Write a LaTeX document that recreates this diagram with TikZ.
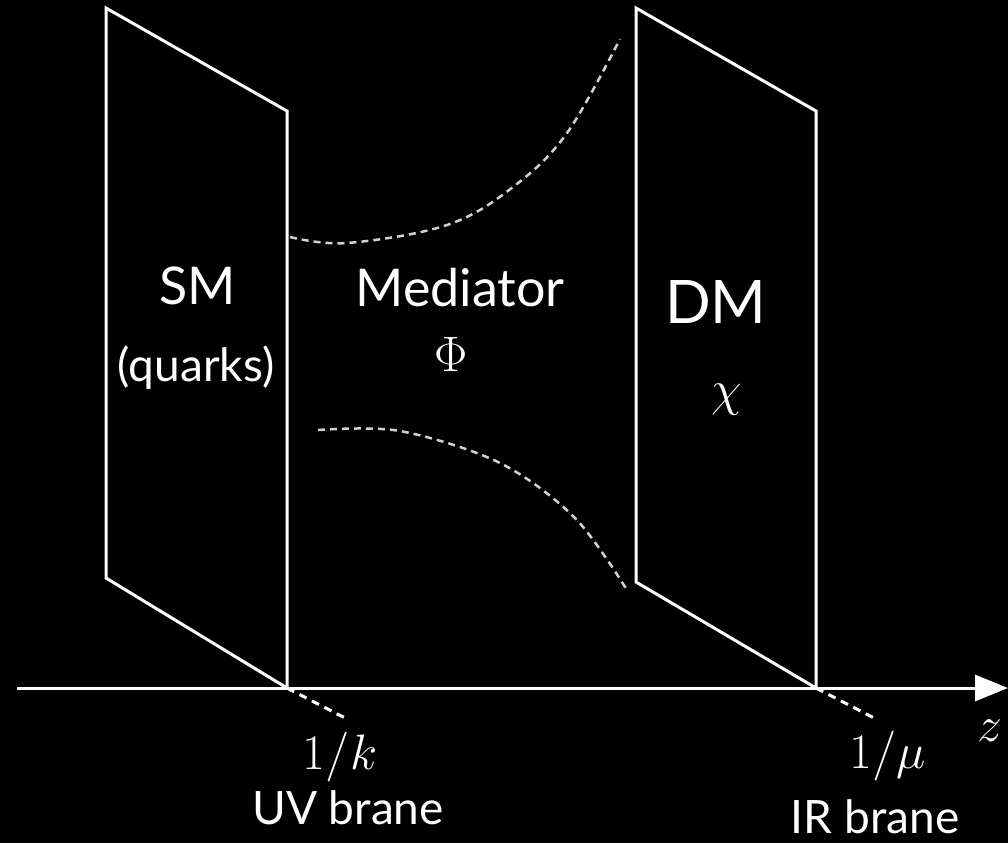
\documentclass[tikz,border=0pt]{standalone}
\usepackage[no-math]{fontspec}
\setmainfont{Lato}
\usetikzlibrary{arrows.meta}
\begin{document}
\begin{tikzpicture}[x=0.5pt,y=-0.5pt,
  brane/.style={draw=white,line width=1.5pt,line join=miter},
  guide/.style={draw=white,line width=1.5pt,dash pattern=on 4pt off 3pt},
  flux/.style={draw=black!18!white,line width=1.25pt,dash pattern=on 3.5pt off 2.5pt},
  lbl/.style={text=white,inner sep=0pt,anchor=center},
  big/.style={lbl,font=\fontsize{26}{30}\selectfont},
  mid/.style={lbl,font=\fontsize{23}{27}\selectfont},
  mth/.style={lbl,font=\fontsize{28}{31}\selectfont}]
\fill[black] (0,0) rectangle (1008,843);
\useasboundingbox (0,0) rectangle (1008,843);
% axis
\coordinate (ax0) at (17,688);
\coordinate (ax1) at (1008,688);
\draw[white,line width=1.5pt,-{Triangle[length=16.5pt,width=13pt]}] (ax0) -- (ax1);
% UV brane
\coordinate (uvtl) at (106,8);
\coordinate (uvtr) at (287,111);
\coordinate (uvbr) at (287,688);
\coordinate (uvbl) at (106,578);
\draw[brane] (uvtl) -- (uvtr) -- (uvbr) -- (uvbl) -- cycle;
% IR brane
\coordinate (irtl) at (636,8);
\coordinate (irtr) at (816,111);
\coordinate (irbr) at (816,688);
\coordinate (irbl) at (636,582);
\draw[brane] (irtl) -- (irtr) -- (irbr) -- (irbl) -- cycle;
% guide lines
\coordinate (uvend) at (349,720);
\coordinate (irend) at (878,720);
\draw[guide] (uvbr) -- (uvend);
\draw[guide] (irbr) -- (irend);
% flux curves
\draw[flux] plot[smooth,tension=0.6] coordinates {(290,237) (347,243) (447,225) (513,187) (567,133) (620,39)};
\draw[flux] plot[smooth,tension=0.55] coordinates {(318,430) (400,431) (500,463) (575,518) (627,590)};
% labels
\node[big] (sm) at (198,286) {SM};
\node[mid] (qk) at (196,368) {(quarks)};
\node[big] (med) at (460,288) {Mediator};
\node[mth,font=\fontsize{31}{34}\selectfont] (phi) at (451,354) {$\Phi$};
\node[big,font=\fontsize{30}{34}\selectfont] (dm) at (716,302) {DM};
\node[mth,font=\fontsize{29}{32}\selectfont] (chi) at (727,400) {$\chi$};
\node[mth,font=\fontsize{25}{28}\selectfont] (k) at (340,757) {$1/k$};
\node[mid] (uv) at (348,808) {UV brane};
\node[mth,font=\fontsize{25}{28}\selectfont] (mu) at (888,756) {$1/\mu$};
\node[mid] (ir) at (875,817) {IR brane};
\node[mth] (z) at (990,731) {$z$};
\end{tikzpicture}
\end{document}
